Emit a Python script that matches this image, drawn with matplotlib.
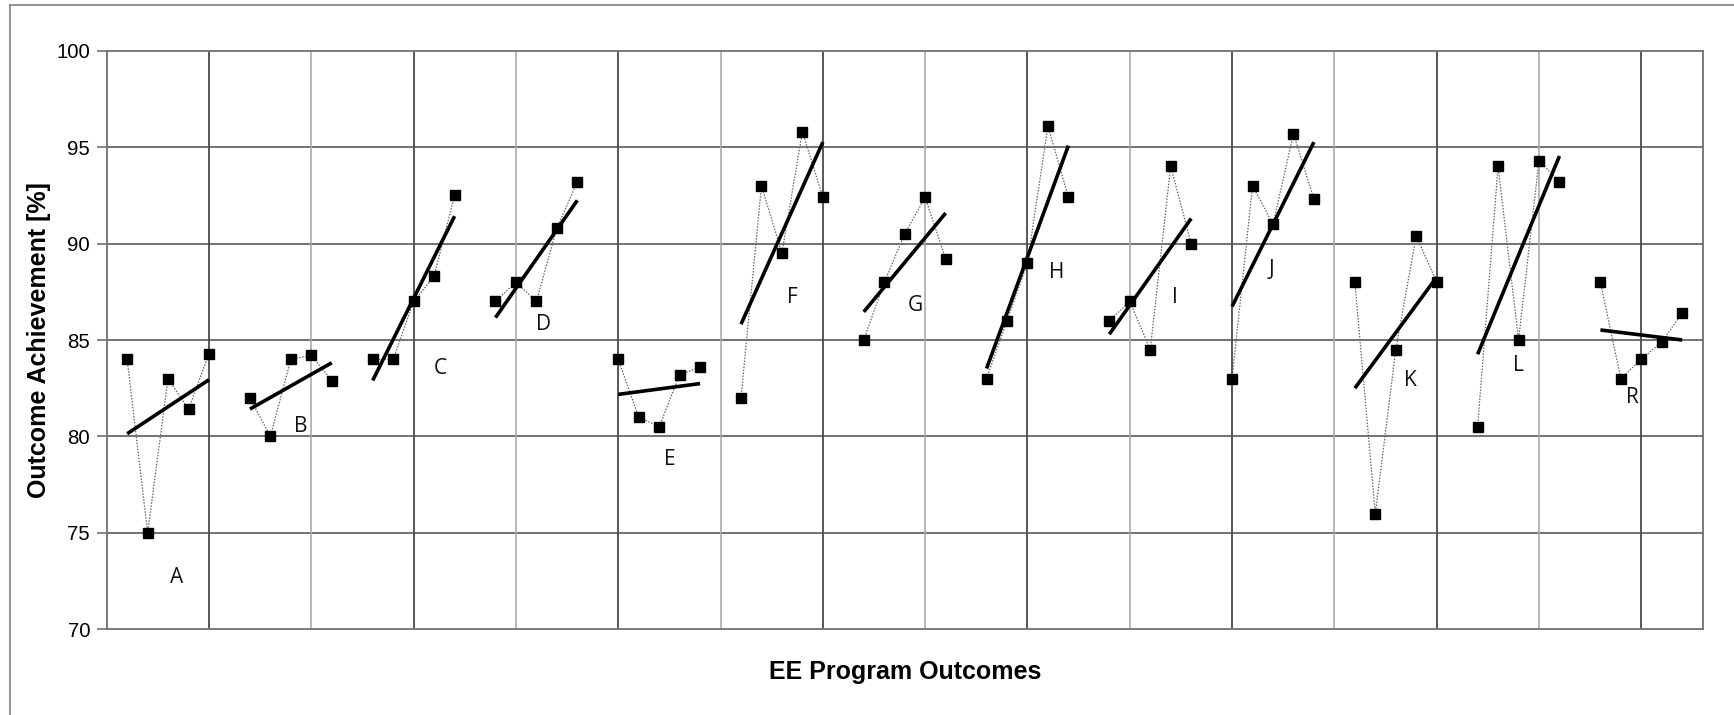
import numpy as np
import matplotlib
matplotlib.use("Agg")
import matplotlib.pyplot as plt
from matplotlib.lines import Line2D

# outcome letters and the five achievement values for each
outcomes = ["A", "B", "C", "D", "E", "F", "G", "H", "I", "J", "K", "L", "R"]
vals_A = [84, 75, 83, 81.4, 84.3]
vals_B = [82, 80, 84, 84.2, 82.9]
vals_C = [84, 84, 87, 88.3, 92.5]
vals_D = [87, 88, 87, 90.8, 93.2]
vals_E = [84, 81, 80.5, 83.2, 83.6]
vals_F = [82, 93, 89.5, 95.8, 92.4]
vals_G = [85, 88, 90.5, 92.4, 89.2]
vals_H = [83, 86, 89, 96.1, 92.4]
vals_I = [86, 87, 84.5, 94, 90]
vals_J = [83, 93, 91, 95.7, 92.3]
vals_K = [88, 76, 84.5, 90.4, 88]
vals_L = [80.5, 94, 85, 94.3, 93.2]
vals_R = [88, 83, 84, 84.9, 86.4]
all_vals = [vals_A, vals_B, vals_C, vals_D, vals_E, vals_F, vals_G,
            vals_H, vals_I, vals_J, vals_K, vals_L, vals_R]

# where each letter is written (x, y in data units)
label_x = [3.42, 9.5, 16.3, 21.35, 27.5, 33.5, 39.5, 46.45, 52.2, 56.9, 63.7, 69.0, 74.57]
label_y = [72.7, 80.5, 83.5, 85.8, 78.8, 87.2, 86.8, 88.5, 87.2, 88.65, 82.9, 83.7, 82.0]

fig = plt.figure(figsize=(17.34, 7.15), dpi=100)
ax = fig.add_axes([106.7 / 1734, 1 - 629.3 / 715, (1702.7 - 106.7) / 1734, (629.3 - 50.7) / 715])

# outer chart frame (only left and top visible)
fig.add_artist(Line2D([10 / 1734, 10 / 1734], [0, 1 - 5.3 / 715], transform=fig.transFigure,
                      color="#8a8a8a", lw=1.3))
fig.add_artist(Line2D([10 / 1734, 1], [1 - 5.3 / 715, 1 - 5.3 / 715], transform=fig.transFigure,
                      color="#8a8a8a", lw=1.3))

# gridlines
for y in range(75, 100, 5):
    ax.axhline(y, color="#5a5a5a", lw=1.2, zorder=1)
for x in range(5, 78, 5):
    if x % 10 == 5:
        ax.axvline(x, color="#4a4a4a", lw=1.3, zorder=1)
    else:
        ax.axvline(x, color="#ababab", lw=1.2, zorder=1)

for i, vals in enumerate(all_vals):
    xs = np.arange(1, 6) + 6 * i
    ax.plot(xs, vals, ls=(0, (1.2, 1.2)), color="#666666", lw=0.9, zorder=2)
    ax.plot(xs, vals, ls="none", marker="s", ms=7.3, color="black", zorder=4)
    k, b = np.polyfit(xs, vals, 1)
    ends = np.array([xs[0], xs[-1]])
    ax.plot(ends, k * ends + b, color="black", lw=2.6, solid_capstyle="butt", zorder=3)
    ax.text(label_x[i], label_y[i], outcomes[i], ha="center", va="center",
            fontsize=15, family="Open Sans", color="#111111", zorder=5)

ax.set_xlim(0, 78)
ax.set_ylim(70, 100)
ax.set_yticks(range(70, 101, 5))
ax.set_xticks([])
ax.tick_params(axis="y", length=7, width=1.2, color="#707070", pad=5,
               labelsize=14.7, labelcolor="black")
for t in ax.get_yticklabels():
    t.set_family("Liberation Sans")
for side in ax.spines:
    ax.spines[side].set_color("#707070")
    ax.spines[side].set_linewidth(1.3)

ax.set_ylabel("Outcome Achievement [%]", fontsize=18, fontweight="bold",
              family="Liberation Sans")
ax.yaxis.set_label_coords((51 - 106.7) / 1596, 0.5)
ax.set_xlabel("EE Program Outcomes", fontsize=18, fontweight="bold",
              family="Liberation Sans", labelpad=22)

fig.savefig("out.png", dpi=100)
